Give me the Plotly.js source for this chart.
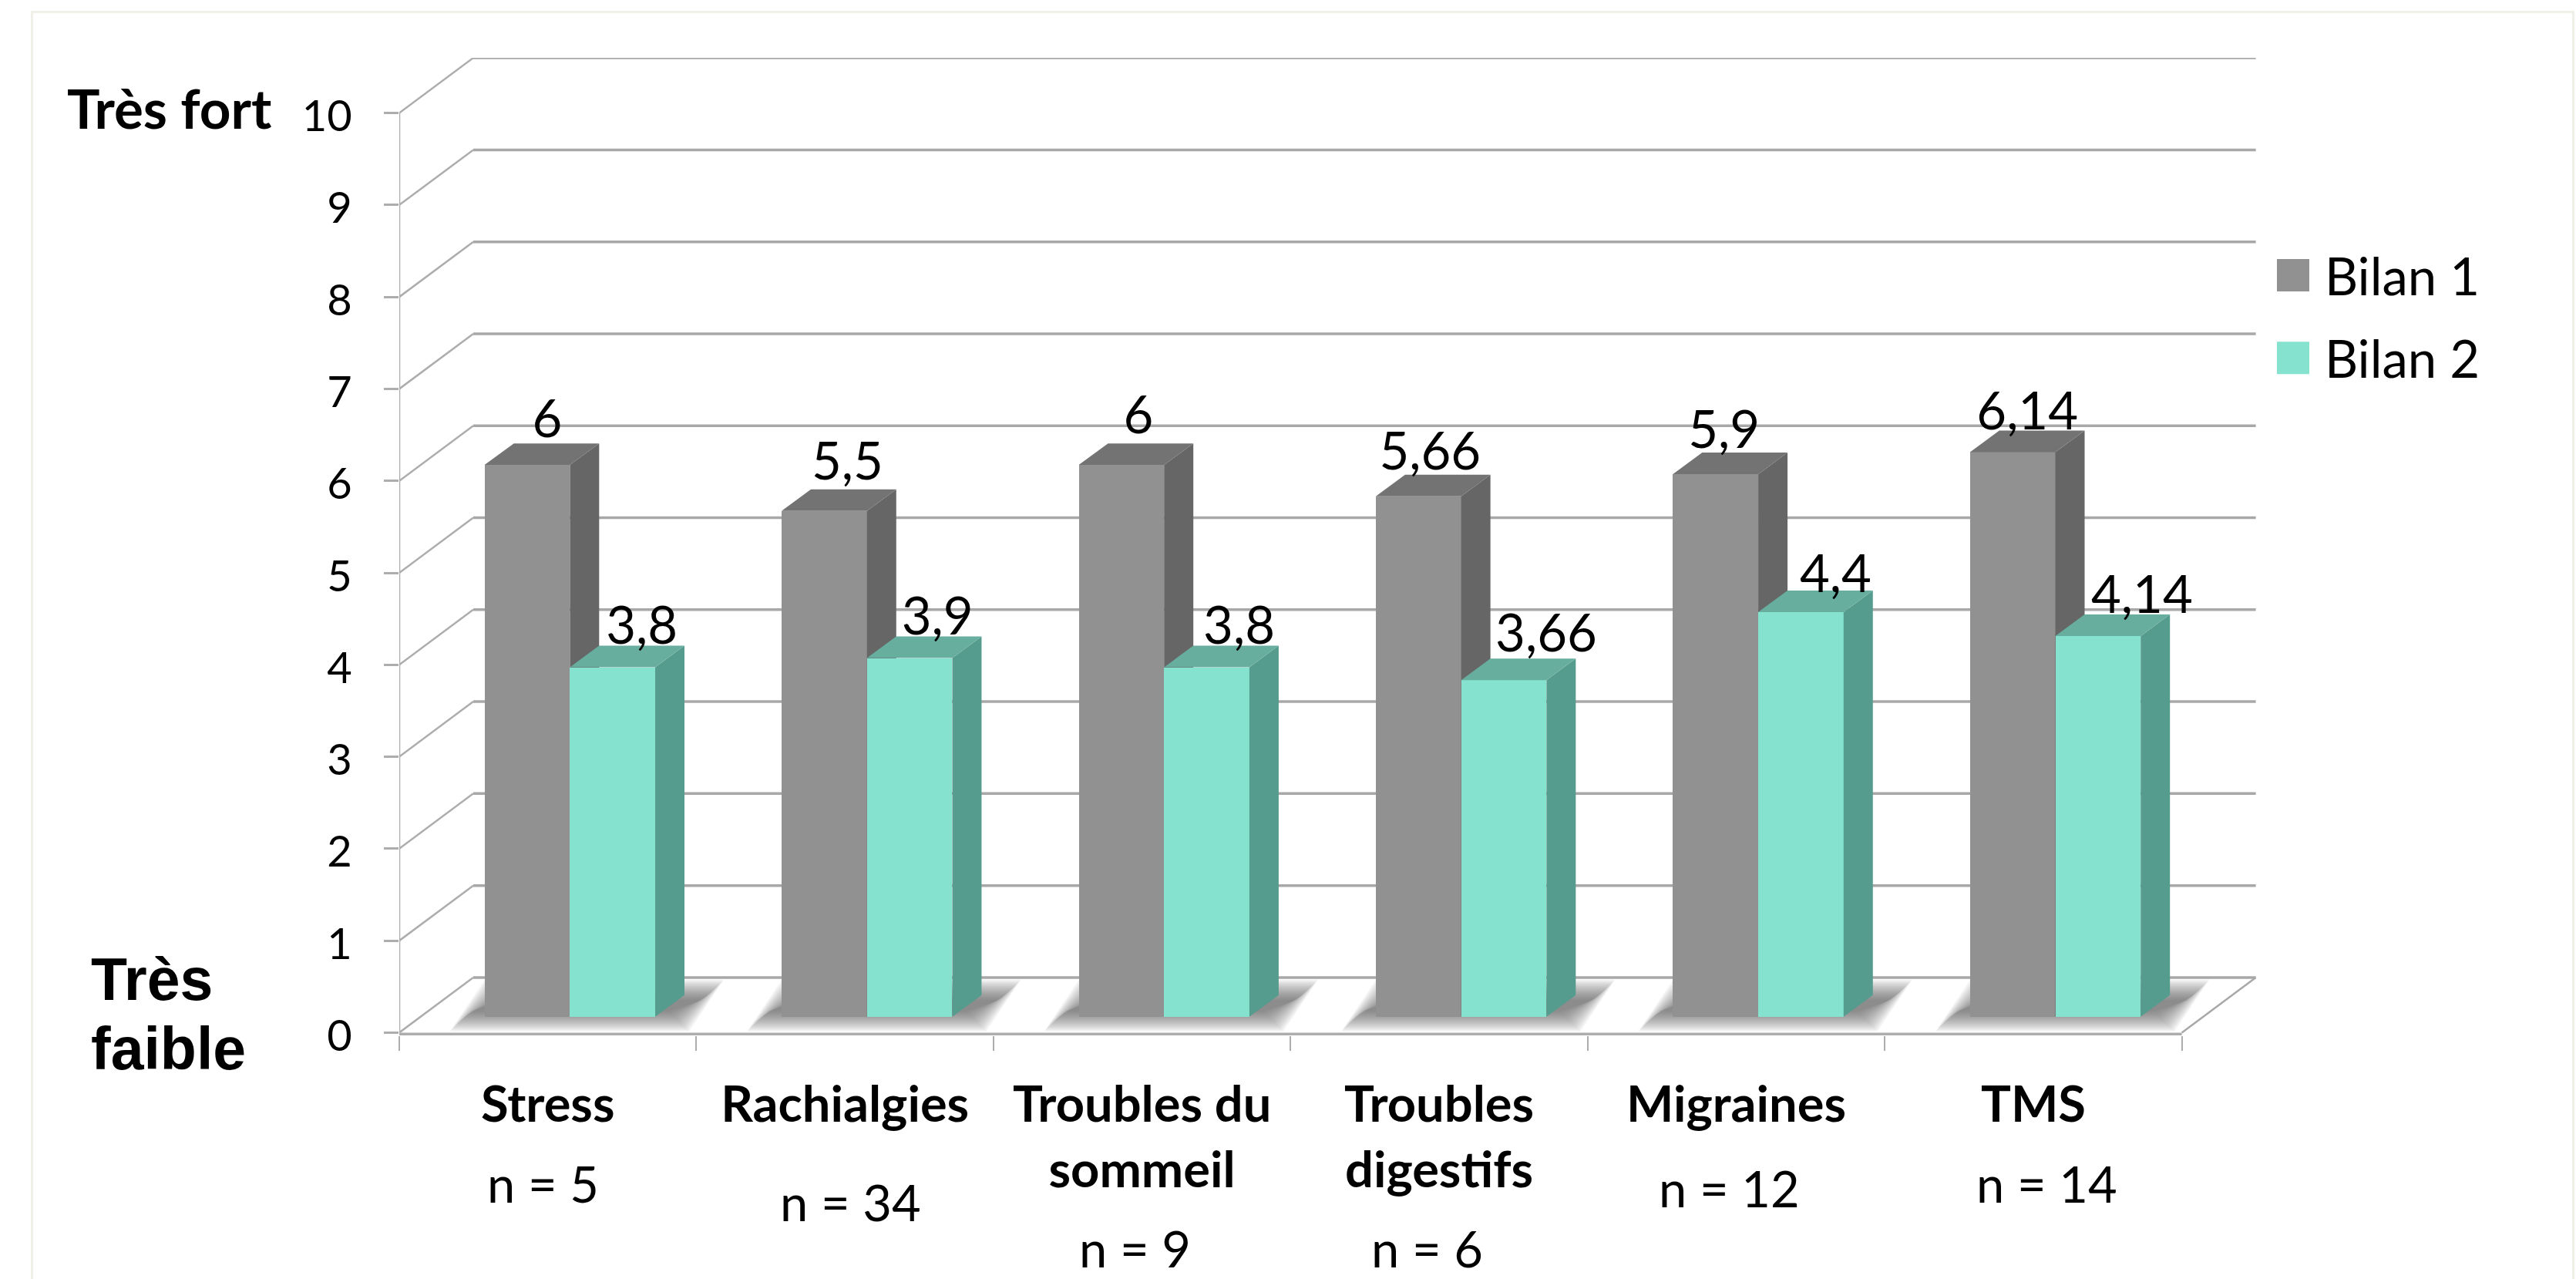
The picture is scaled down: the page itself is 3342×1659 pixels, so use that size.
<!DOCTYPE html>
<html><head><meta charset="utf-8">
<script src="https://cdn.plot.ly/plotly-3.0.1.min.js"></script>
<style>
html,body{margin:0;padding:0;background:#fff;overflow:hidden}
#frame{position:absolute;left:40px;top:14px;width:3300px;height:1700px;border:3px solid #f0f0e9;box-sizing:border-box}
#chart{position:absolute;left:0;top:0;width:3342px;height:1659px}
</style></head><body><div id="frame"></div><div id="chart"></div>
<script>
// ---- data
var categories = ["Stress","Rachialgies","Troubles du<br>sommeil","Troubles<br>digestifs","Migraines","TMS"];
var sampleLabels = ["n = 5","n = 34","n = 9","n = 6","n = 12","n = 14"];
var bilan1 = [6,5.5,6,5.66,5.9,6.14];
var bilan2 = [3.8,3.9,3.8,3.66,4.4,4.14];
var yTicks = [0,1,2,3,4,5,6,7,8,9,10];

// ---- geometry of the 3D look (in axis units)
var W=3342,H=1659, x0px=518, catPx=385.5, y0px=1339.6, unitPx=119.32;
var xMax=6.25, yMin=-0.03, yMax=10.6;
var X=function(p){return (p-x0px)/catPx}, Y=function(p){return (y0px-p)/unitPx};
var plotH=(yMax-yMin)*unitPx, plotW=xMax*catPx, plotTop=y0px-yMax*unitPx;
var PX=function(p){return (p-x0px)/plotW}, PY=function(p){return 1-(p-plotTop)/plotH};
var wallDx=96/catPx, wallDy=71.5/unitPx;
var barStart=0.287, barW=0.2872, barBase=20.6/unitPx, depthDx=38/catPx, depthDy=28/unitPx;
var n=categories.length, idx=categories.map(function(_,i){return i});
var centers=idx.map(function(i){return i+0.5});

function lineTrace(xs,ys,color,w,axes){return {type:'scatter',mode:'lines',x:xs,y:ys,line:{color:color,width:w},
  hoverinfo:'skip',showlegend:false,xaxis:axes[0],yaxis:axes[1]}}
function poly(list,color,axes){var xs=[],ys=[];list.forEach(function(p){p.forEach(function(q){xs.push(q[0]);ys.push(q[1])});
  xs.push(p[0][0]);ys.push(p[0][1]);xs.push(null);ys.push(null)});
  return {type:'scatter',mode:'lines',x:xs,y:ys,fill:'toself',fillcolor:color,line:{width:0,color:color},
  hoverinfo:'skip',showlegend:false,xaxis:axes[0],yaxis:axes[1]}}

var traces=[], A1=['x','y'], A2=['x2','y2'], A3=['x3','y3'];
// walls: grid
var gx=[],gy=[],sx=[],sy=[];
yTicks.forEach(function(v){gx.push(wallDx,n+wallDx,null);gy.push(v+wallDy,v+wallDy,null);
  sx.push(0,wallDx,null);sy.push(v,v+wallDy,null)});
traces.push(lineTrace(gx,gy,'#a8a8a8',3.5,A1));
traces.push(lineTrace(sx,sy,'#adadad',2.5,A1));
traces.push(lineTrace([0,0],[0,10],'#adadad',2.5,A1));
traces.push(lineTrace([n,n+wallDx],[0,wallDy],'#a8a8a8',2.5,A1));
traces.push(lineTrace([0,n],[-0.018,-0.018],'#adadad',4,A1));
// soft floor shadows (nested translucent layers)
[14,12,10,8,6,4,2,0,-2,-4,-6,-8,-10,-12].forEach(function(g){
  var L=[];idx.forEach(function(i){
    var l=i+(598-518)/catPx, r=i+(880-518)/catPx, sh=45/catPx, b=Y(1324), t=Y(1285);
    var gxx=g/catPx, gyy=g/unitPx;
    L.push([[l-gxx,b-gyy],[r+gxx,b-gyy],[r+sh+gxx,t+gyy],[l+sh-gxx,t+gyy]]);
  });
  traces.push(poly(L,'rgba(70,70,70,0.065)',A1));
});

function barFaces(vals,start,front,side,top,axes,name){
  traces.push({type:'bar',name:name,x:idx,y:vals,base:barBase,width:barW,offset:start,
    marker:{color:front,line:{width:0}},xaxis:axes[0],yaxis:axes[1],legendgroup:name,showlegend:true,
    hovertemplate:name+': %{y}<extra></extra>'});
  var S=[],T=[];
  idx.forEach(function(i){var l=i+start,r=l+barW,v=vals[i]+barBase;
    S.push([[r,barBase],[r+depthDx,barBase+depthDy],[r+depthDx,v+depthDy],[r,v]]);
    T.push([[l,v],[r,v],[r+depthDx,v+depthDy],[l+depthDx,v+depthDy]]);
  });
  traces.push(poly(S,side,axes));traces.push(poly(T,top,axes));
}
barFaces(bilan1,barStart,'#919191','#666666','#737373',A2,'Bilan 1');
barFaces(bilan2,barStart+barW,'#85e2cf','#559c8f','#67ae9f',A3,'Bilan 2');

// value labels (offsets from the bar centre, label pixel placement)
var labelDx1=[26,30,22,15,11,19], labelDx2=[38,36,42,55,45,57];
var labelDy1=[53,58,58,51,51,46], labelDy2=[47,47,47,54,43,47];
var comma=function(v){return String(v).replace('.',',')};
function labels(vals,start,dx,dy){
  traces.push({type:'scatter',mode:'text',x:idx.map(function(i){return i+start+barW/2+dx[i]/catPx}),
    y:vals.map(function(v,i){return v+barBase+dy[i]/unitPx}),text:vals.map(comma),textposition:'middle center',
    textfont:{family:'Lato',size:67,color:'#000'},hoverinfo:'skip',showlegend:false,xaxis:'x3',yaxis:'y3',cliponaxis:false});
}
labels(bilan1,barStart,labelDx1,labelDy1);
labels(bilan2,barStart+barW,labelDx2,labelDy2);

// text placement
var sampleX=[705,1104,1473,1852,2244,2656], sampleY=[1535,1559,1619,1619,1541,1535];
var ann=sampleLabels.map(function(t,i){return {text:t,xref:'paper',yref:'paper',x:PX(sampleX[i]),y:PY(sampleY[i]),showarrow:false,
  xanchor:'center',yanchor:'middle',font:{family:'Lato',size:65,color:'#000'}}});
ann.push({text:'<b>Très fort</b>',xref:'paper',yref:'paper',x:PX(220),y:PY(139),showarrow:false,xanchor:'center',yanchor:'middle',
  font:{family:'Lato',size:71,color:'#000'}});
ann.push({text:'<b>Très</b>',xref:'paper',yref:'paper',x:PX(116),y:PY(1270),showarrow:false,xanchor:'left',yanchor:'middle',
  font:{family:'Liberation Sans',size:77,color:'#000'}});
ann.push({text:'<b>faible</b>',xref:'paper',yref:'paper',x:PX(116),y:PY(1360),showarrow:false,xanchor:'left',yanchor:'middle',
  font:{family:'Liberation Sans',size:77,color:'#000'}});

var layout={width:W,height:H,paper_bgcolor:'rgba(0,0,0,0)',plot_bgcolor:'rgba(0,0,0,0)',
  margin:{l:x0px,r:W-(x0px+xMax*catPx),t:y0px-yMax*unitPx,b:H-(y0px-yMin*unitPx),pad:0,autoexpand:false},
  font:{family:'Lato',color:'#000'},bargap:0,barmode:'overlay',
  xaxis:{range:[0,xMax],tickmode:'array',tickvals:idx.concat([n]),ticktext:idx.concat([n]).map(function(){return ''}),
    ticks:'outside',ticklen:19,tickwidth:2,tickcolor:'#adadad',showgrid:false,zeroline:false,showline:false},
  yaxis:{range:[yMin,yMax],tickmode:'array',tickvals:yTicks,ticktext:yTicks.map(String),ticks:'outside',ticklen:19,tickwidth:2.5,
    tickcolor:'#adadad',showgrid:false,zeroline:false,showline:false,tickfont:{family:'Lato',size:56,color:'#000'},ticklabelstandoff:30},
  xaxis2:{overlaying:'x',anchor:'y2',range:[0,xMax],tickmode:'array',tickvals:centers,ticktext:categories.map(function(c){return '<b>'+c+'</b>'}),
    ticks:'',showgrid:false,zeroline:false,showline:false,side:'bottom',tickangle:0,tickfont:{family:'Lato',size:65,color:'#000'},ticklabelstandoff:46},
  yaxis2:{overlaying:'y',anchor:'x2',range:[yMin,yMax],visible:false},
  xaxis3:{overlaying:'x',anchor:'y3',range:[0,xMax],visible:false},
  yaxis3:{overlaying:'y',anchor:'x3',range:[yMin,yMax],visible:false},
  showlegend:true,
  legend:{xref:'container',yref:'container',x:2934/W,xanchor:'left',y:1-307/H,yanchor:'top',itemwidth:72,
    tracegroupgap:17,font:{family:'Lato',size:67,color:'#000'},bgcolor:'rgba(0,0,0,0)',borderwidth:0,traceorder:'grouped'},
  annotations:ann};
Plotly.newPlot('chart',traces,layout,{displayModeBar:false,responsive:false}).then(function(){
  document.querySelectorAll('#chart .legend .legendpoints path').forEach(function(p){
    if(p.getAttribute('d')) p.setAttribute('d','M21,21H-21V-21H21Z');
  });
  document.querySelectorAll('#chart .ytick text').forEach(function(t){
    t.setAttribute('y',parseFloat(t.getAttribute('y')||0)+4);
  });
});
</script></body></html>
